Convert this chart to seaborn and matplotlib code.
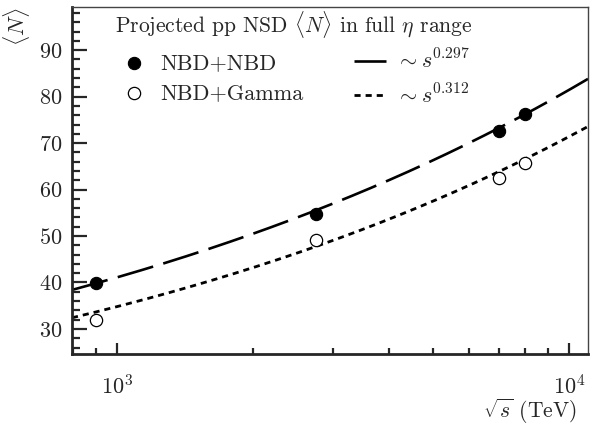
import numpy as np
import pandas as pd
import matplotlib
matplotlib.use("Agg")
import matplotlib.pyplot as plt
import seaborn as sns
from matplotlib.ticker import LogLocator, MultipleLocator, NullFormatter, FixedLocator

# ---- data ----
sqrt_s = [900, 2760, 7000, 8000]
n_nbd_nbd = [39.8, 54.8, 72.5, 76.3]
n_nbd_gamma = [31.9, 49.2, 62.5, 65.7]
# power-law fit parameters (value at sqrt(s)=1000, exponent)
fit_nbd_ref, fit_nbd_exp = 41.1, 0.297
fit_gam_ref, fit_gam_exp = 34.8, 0.312
fit_range = [795, 11020]
yticks = [30, 40, 50, 60, 70, 80, 90]

sns.set_style("ticks")
plt.rcParams.update({
    "font.family": "serif",
    "font.serif": ["cmr10", "DejaVu Serif"],
    "mathtext.fontset": "cm",
    "axes.formatter.use_mathtext": True,
    "axes.unicode_minus": False,
})

fig = plt.figure(figsize=(5.9, 4.26), dpi=100)
ax = fig.add_axes([0.122, 0.169, 0.8746, 0.8146])

xs = np.geomspace(fit_range[0], fit_range[1], 300)
curves = pd.DataFrame({
    "x": np.concatenate([xs, xs]),
    "y": np.concatenate([fit_nbd_ref * (xs / 1000) ** fit_nbd_exp,
                         fit_gam_ref * (xs / 1000) ** fit_gam_exp]),
    "fit": ["a"] * len(xs) + ["b"] * len(xs),
})

sns.lineplot(data=curves[curves.fit == "a"], x="x", y="y", ax=ax, color="black",
             lw=1.9, linestyle=(0, (14, 4)), label=r"$\sim s^{0.297}$", zorder=2)
sns.lineplot(data=curves[curves.fit == "b"], x="x", y="y", ax=ax, color="black",
             lw=2.0, linestyle=(0, (2.2, 1.8)), label=r"$\sim s^{0.312}$", zorder=2)

pts = pd.DataFrame({"x": sqrt_s, "a": n_nbd_nbd, "b": n_nbd_gamma})
sns.scatterplot(data=pts, x="x", y="a", ax=ax, s=78, color="black",
                edgecolor="black", linewidth=0.8, label="NBD+NBD", zorder=3)
sns.scatterplot(data=pts, x="x", y="b", ax=ax, s=78, color="white",
                edgecolor="black", linewidth=0.9, label="NBD+Gamma", zorder=3)

ax.set_xscale("log")
ax.set_xlim(fit_range)
ax.set_ylim(24.6, 99.3)

ax.xaxis.set_major_locator(LogLocator(base=10, numticks=10))
ax.xaxis.set_minor_locator(LogLocator(base=10, subs=np.arange(2, 10), numticks=20))
ax.xaxis.set_minor_formatter(NullFormatter())
ax.yaxis.set_major_locator(FixedLocator(yticks))
ax.yaxis.set_minor_locator(MultipleLocator(2))

ax.tick_params(axis="both", which="both", direction="in", top=False, right=False,
               labelsize=16, width=1.6)
ax.tick_params(axis="y", which="major", length=11, pad=7)
ax.tick_params(axis="y", which="minor", length=5.5)
ax.tick_params(axis="x", which="major", length=8, pad=14.5)
ax.tick_params(axis="x", which="minor", length=4)

for side in ["left", "bottom"]:
    ax.spines[side].set_linewidth(2.0)
for side in ["top", "right"]:
    ax.spines[side].set_linewidth(1.0)
    ax.spines[side].set_color("#444444")

ax.set_xlabel(r"$\sqrt{s}$ (TeV)", fontsize=15.5, loc="right")
ax.xaxis.set_label_coords(0.979, -0.124)
ax.set_ylabel(r"$\langle N\rangle$", fontsize=16)
ax.yaxis.set_label_coords(-0.078, 0.942)

ax.text(0.083, 0.948, r"Projected pp NSD $\langle N\rangle$ in full $\eta$ range",
        transform=ax.transAxes, fontsize=15.5, ha="left", va="center")

h, l = ax.get_legend_handles_labels()
order = [2, 3, 0, 1]
leg = ax.legend([h[i] for i in order], [l[i] for i in order], ncol=2,
                fontsize=16, frameon=False, loc="upper left",
                bbox_to_anchor=(0.091, 0.88), borderaxespad=0, borderpad=0,
                handlelength=1.4, handletextpad=0.45, columnspacing=2.3,
                labelspacing=0.47, markerscale=1.0)

fig.savefig("out.png", dpi=100)
